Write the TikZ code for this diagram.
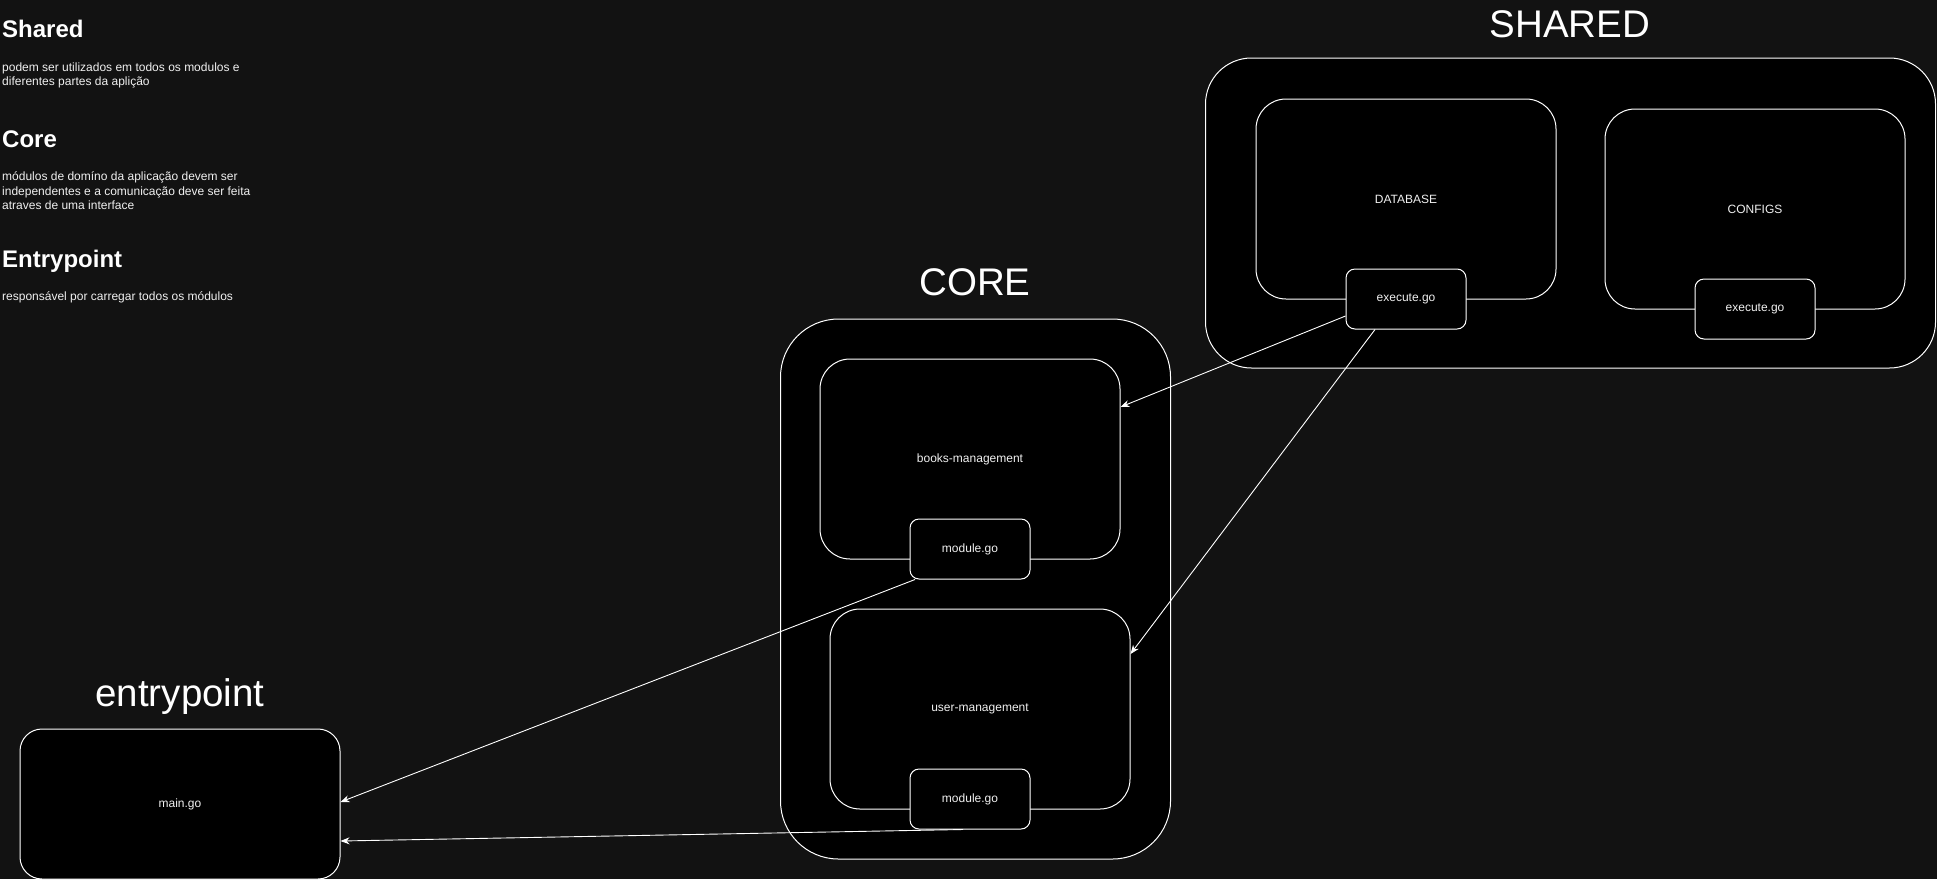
\documentclass[tikz,border=0pt]{standalone}
\usepackage{fontspec}
\setmainfont{Liberation Sans}
\usetikzlibrary{arrows.meta}
\definecolor{bgc}{HTML}{121212}
\definecolor{txc}{HTML}{F0F0F0}
\newcommand\fsm{\fontsize{12}{14.4}\selectfont}
\newcommand\fttl{\fontsize{38.5}{46}\selectfont}
\newcommand\fhd{\fontsize{24}{29}\selectfont\bfseries}
\tikzset{
  box/.style={draw=white, fill=black, line width=1pt, rectangle, inner sep=0pt, text=txc, font=\fsm},
  ttl/.style={anchor=base, text=white, font=\fttl, inner sep=0pt},
  hd/.style={anchor=base west, text=white, font=\fhd, inner sep=0pt},
  desc/.style={anchor=base west, text=txc, font=\fsm, inner sep=0pt},
  conn/.style={draw=white, line width=0.9pt, -{Stealth[length=9pt,width=7pt]}}
}
\begin{document}
\begin{tikzpicture}[x=1pt,y=-1pt]
\fill[bgc] (0,0) rectangle (1937,879);
\useasboundingbox (0,0) rectangle (1937,879);

% left texts
\node[hd] (hshared) at (2,37) {Shared};
\node[desc] (dshared1) at (2,71) {podem ser utilizados em todos os modulos e};
\node[desc] (dshared2) at (2,85) {diferentes partes da aplição};
\node[hd] (hcore) at (2,147) {Core};
\node[desc] (dcore1) at (2,180) {módulos de domíno da aplicação devem ser};
\node[desc] (dcore2) at (2,195) {independentes e a comunicação deve ser feita};
\node[desc] (dcore3) at (2,209) {atraves de uma interface};
\node[hd] (hentry) at (2,267) {Entrypoint};
\node[desc] (dentry) at (2,300) {responsável por carregar todos os módulos};

% titles
\node[ttl] (tshared) at (1570,37) {SHARED};
\node[ttl] (tcore) at (975,295) {CORE};
\node[ttl] (tentry) at (180,706) {entrypoint};

% SHARED group
\node[box, minimum width=730pt, minimum height=310pt, rounded corners=46pt] (shared) at (1570.5,213) {};
\node[box, minimum width=300pt, minimum height=200pt, rounded corners=30pt] (db) at (1406,199) {DATABASE};
\node[box, minimum width=300pt, minimum height=200pt, rounded corners=30pt] (cfg) at (1755,209) {CONFIGS};
\node[box, minimum width=120pt, minimum height=60pt, rounded corners=9pt] (dbexec) at (1406,299) {execute.go};
\node[box, minimum width=120pt, minimum height=60pt, rounded corners=9pt] (cfgexec) at (1755,309) {execute.go};

% CORE group
\node[box, minimum width=390pt, minimum height=540pt, rounded corners=58pt] (core) at (975.5,589) {};
\node[box, minimum width=300pt, minimum height=200pt, rounded corners=30pt] (books) at (970,459) {books-management};
\node[box, minimum width=300pt, minimum height=200pt, rounded corners=30pt] (user) at (980,709) {user-management};
\node[box, minimum width=120pt, minimum height=60pt, rounded corners=9pt] (bmod) at (970,549) {module.go};
\node[box, minimum width=120pt, minimum height=60pt, rounded corners=9pt] (umod) at (970,799) {module.go};

% entrypoint
\node[box, minimum width=320pt, minimum height=150pt, rounded corners=22pt] (main) at (180,804) {main.go};

% connectors
\draw[conn] ([yshift=-17pt]dbexec.west) -- ([yshift=52pt]books.east);
\draw[conn] ([xshift=-31pt]dbexec.south) -- ([yshift=55pt]user.east);
\draw[conn] ([xshift=-55pt]bmod.south) -- ([yshift=2pt]main.east);
\draw[conn] ([xshift=-7pt]umod.south) -- ([yshift=-37pt]main.east);
\end{tikzpicture}
\end{document}
